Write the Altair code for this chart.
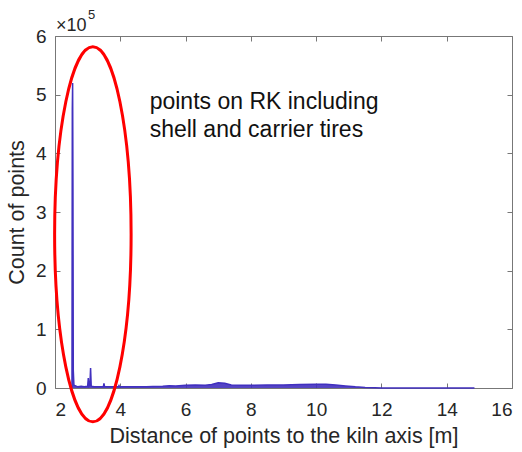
import altair as alt
import pandas as pd

# Distance to kiln axis [m] and count of points [x 1e5]
dist = [2.46, 2.52, 2.53, 2.54, 2.55, 2.56, 2.58, 2.70, 2.80, 2.90, 3.00, 3.02, 3.04,
        3.07, 3.09, 3.11, 3.20, 3.30, 3.48, 3.50, 3.52, 3.70, 3.94, 3.96, 3.98, 4.20,
        4.50, 4.80, 5.00, 5.30, 5.50, 5.70, 6.00, 6.30, 6.60, 6.80, 7.00, 7.20, 7.40,
        7.70, 8.00, 8.50, 9.00, 9.50, 10.00, 10.30, 10.60, 10.90, 11.20, 11.50, 11.80,
        12.00, 13.00, 14.00, 14.80, 14.85]
count = [0.0, 0.02, 4.75, 5.2, 3.4, 0.3, 0.05, 0.02, 0.03, 0.02, 0.03, 0.17, 0.03,
         0.05, 0.34, 0.03, 0.02, 0.02, 0.02, 0.08, 0.02, 0.02, 0.02, 0.04, 0.02, 0.02,
         0.02, 0.02, 0.025, 0.03, 0.04, 0.035, 0.045, 0.05, 0.045, 0.06, 0.09, 0.08, 0.05,
         0.045, 0.045, 0.05, 0.05, 0.06, 0.065, 0.065, 0.05, 0.035, 0.02, 0.01, 0.005,
         0.002, 0.001, 0.001, 0.001, 0.0]

x_ticks = [2, 4, 6, 8, 10, 12, 14, 16]
y_ticks = [0, 1, 2, 3, 4, 5, 6]

annot_lines = ["points on RK including", "shell and carrier tires"]
annot_x = [4.9, 4.9]
annot_y = [4.88, 4.40]

ellipse_center = pd.DataFrame({"x": [3.16], "y": [2.62]})

df = pd.DataFrame({"dist": dist, "count": count})
annot = pd.DataFrame({"x": annot_x, "y": annot_y, "t": annot_lines})

FONT = "Liberation Sans"
TXT = "#262626"
BLUE = "#4130bf"

xs = alt.Scale(domain=[2, 16], nice=False)
ys = alt.Scale(domain=[0, 6], nice=False)

x_axis = alt.Axis(values=x_ticks, orient="bottom", offset=-5, tickSize=5, domain=False,
                  grid=False, labelFontSize=19, labelColor=TXT, labelFont=FONT,
                  labelPadding=12, tickColor="#777777",
                  title="Distance of points to the kiln axis [m]", titleFontSize=21.5,
                  titleFont=FONT, titleColor=TXT, titleFontWeight="normal", titlePadding=6)
y_axis = alt.Axis(values=y_ticks, orient="left", offset=-5, tickSize=5, domain=False,
                  grid=False, labelFontSize=19, labelColor=TXT, labelFont=FONT,
                  labelPadding=9, tickColor="#777777",
                  title="Count of points", titleFontSize=21.5, titleFont=FONT,
                  titleColor=TXT, titleFontWeight="normal", titlePadding=7)

area = alt.Chart(df).mark_area(color=BLUE, opacity=0.9).encode(
    x=alt.X("dist:Q", scale=xs, axis=x_axis),
    y=alt.Y("count:Q", scale=ys, axis=y_axis),
)
line = alt.Chart(df).mark_line(color=BLUE, strokeWidth=1.5).encode(
    x=alt.X("dist:Q", scale=xs, axis=None),
    y=alt.Y("count:Q", scale=ys, axis=None),
)

top_right = alt.Chart(df).mark_point(opacity=0).encode(
    x=alt.X("dist:Q", scale=xs, axis=alt.Axis(values=x_ticks, orient="top", offset=-5,
                                              tickSize=5, domain=False, labels=False,
                                              grid=False, title=None, tickColor="#777777")),
    y=alt.Y("count:Q", scale=ys, axis=alt.Axis(values=y_ticks, orient="right", offset=-5,
                                               tickSize=5, domain=False, labels=False,
                                               grid=False, title=None, tickColor="#777777")),
)

ell_path = "M -0.204,0 A 0.204,1 0 1 0 0.204,0 A 0.204,1 0 1 0 -0.204,0 Z"
ellipse = alt.Chart(ellipse_center).mark_point(
    shape=ell_path, size=140625, filled=False, color="#ff0000", strokeWidth=3, opacity=1
).encode(
    x=alt.X("x:Q", scale=xs, axis=None),
    y=alt.Y("y:Q", scale=ys, axis=None),
)

text = alt.Chart(annot).mark_text(align="left", baseline="middle", fontSize=23,
                                  font=FONT, color="#111111").encode(
    x=alt.X("x:Q", scale=xs, axis=None),
    y=alt.Y("y:Q", scale=ys, axis=None),
    text="t:N",
)

exp_base = alt.Chart(ellipse_center).mark_text(align="left", baseline="middle", fontSize=18,
                                               font=FONT, color=TXT).encode(
    x=alt.value(1), y=alt.value(-10), text=alt.value("×10"))
exp_sup = alt.Chart(ellipse_center).mark_text(align="left", baseline="middle", fontSize=13,
                                              font=FONT, color=TXT).encode(
    x=alt.value(33), y=alt.value(-21), text=alt.value("5"))

chart = alt.layer(area, line, top_right, ellipse, text, exp_base, exp_sup).resolve_scale(
    x="independent", y="independent"
).properties(
    width=457, height=352,
    autosize=alt.AutoSizeParams(type="none"),
    padding={"left": 55, "top": 36, "right": 10, "bottom": 64},
).configure_view(stroke="#777777", strokeWidth=1)

chart.save("out.html", embed_options={"renderer": "svg", "actions": False})
